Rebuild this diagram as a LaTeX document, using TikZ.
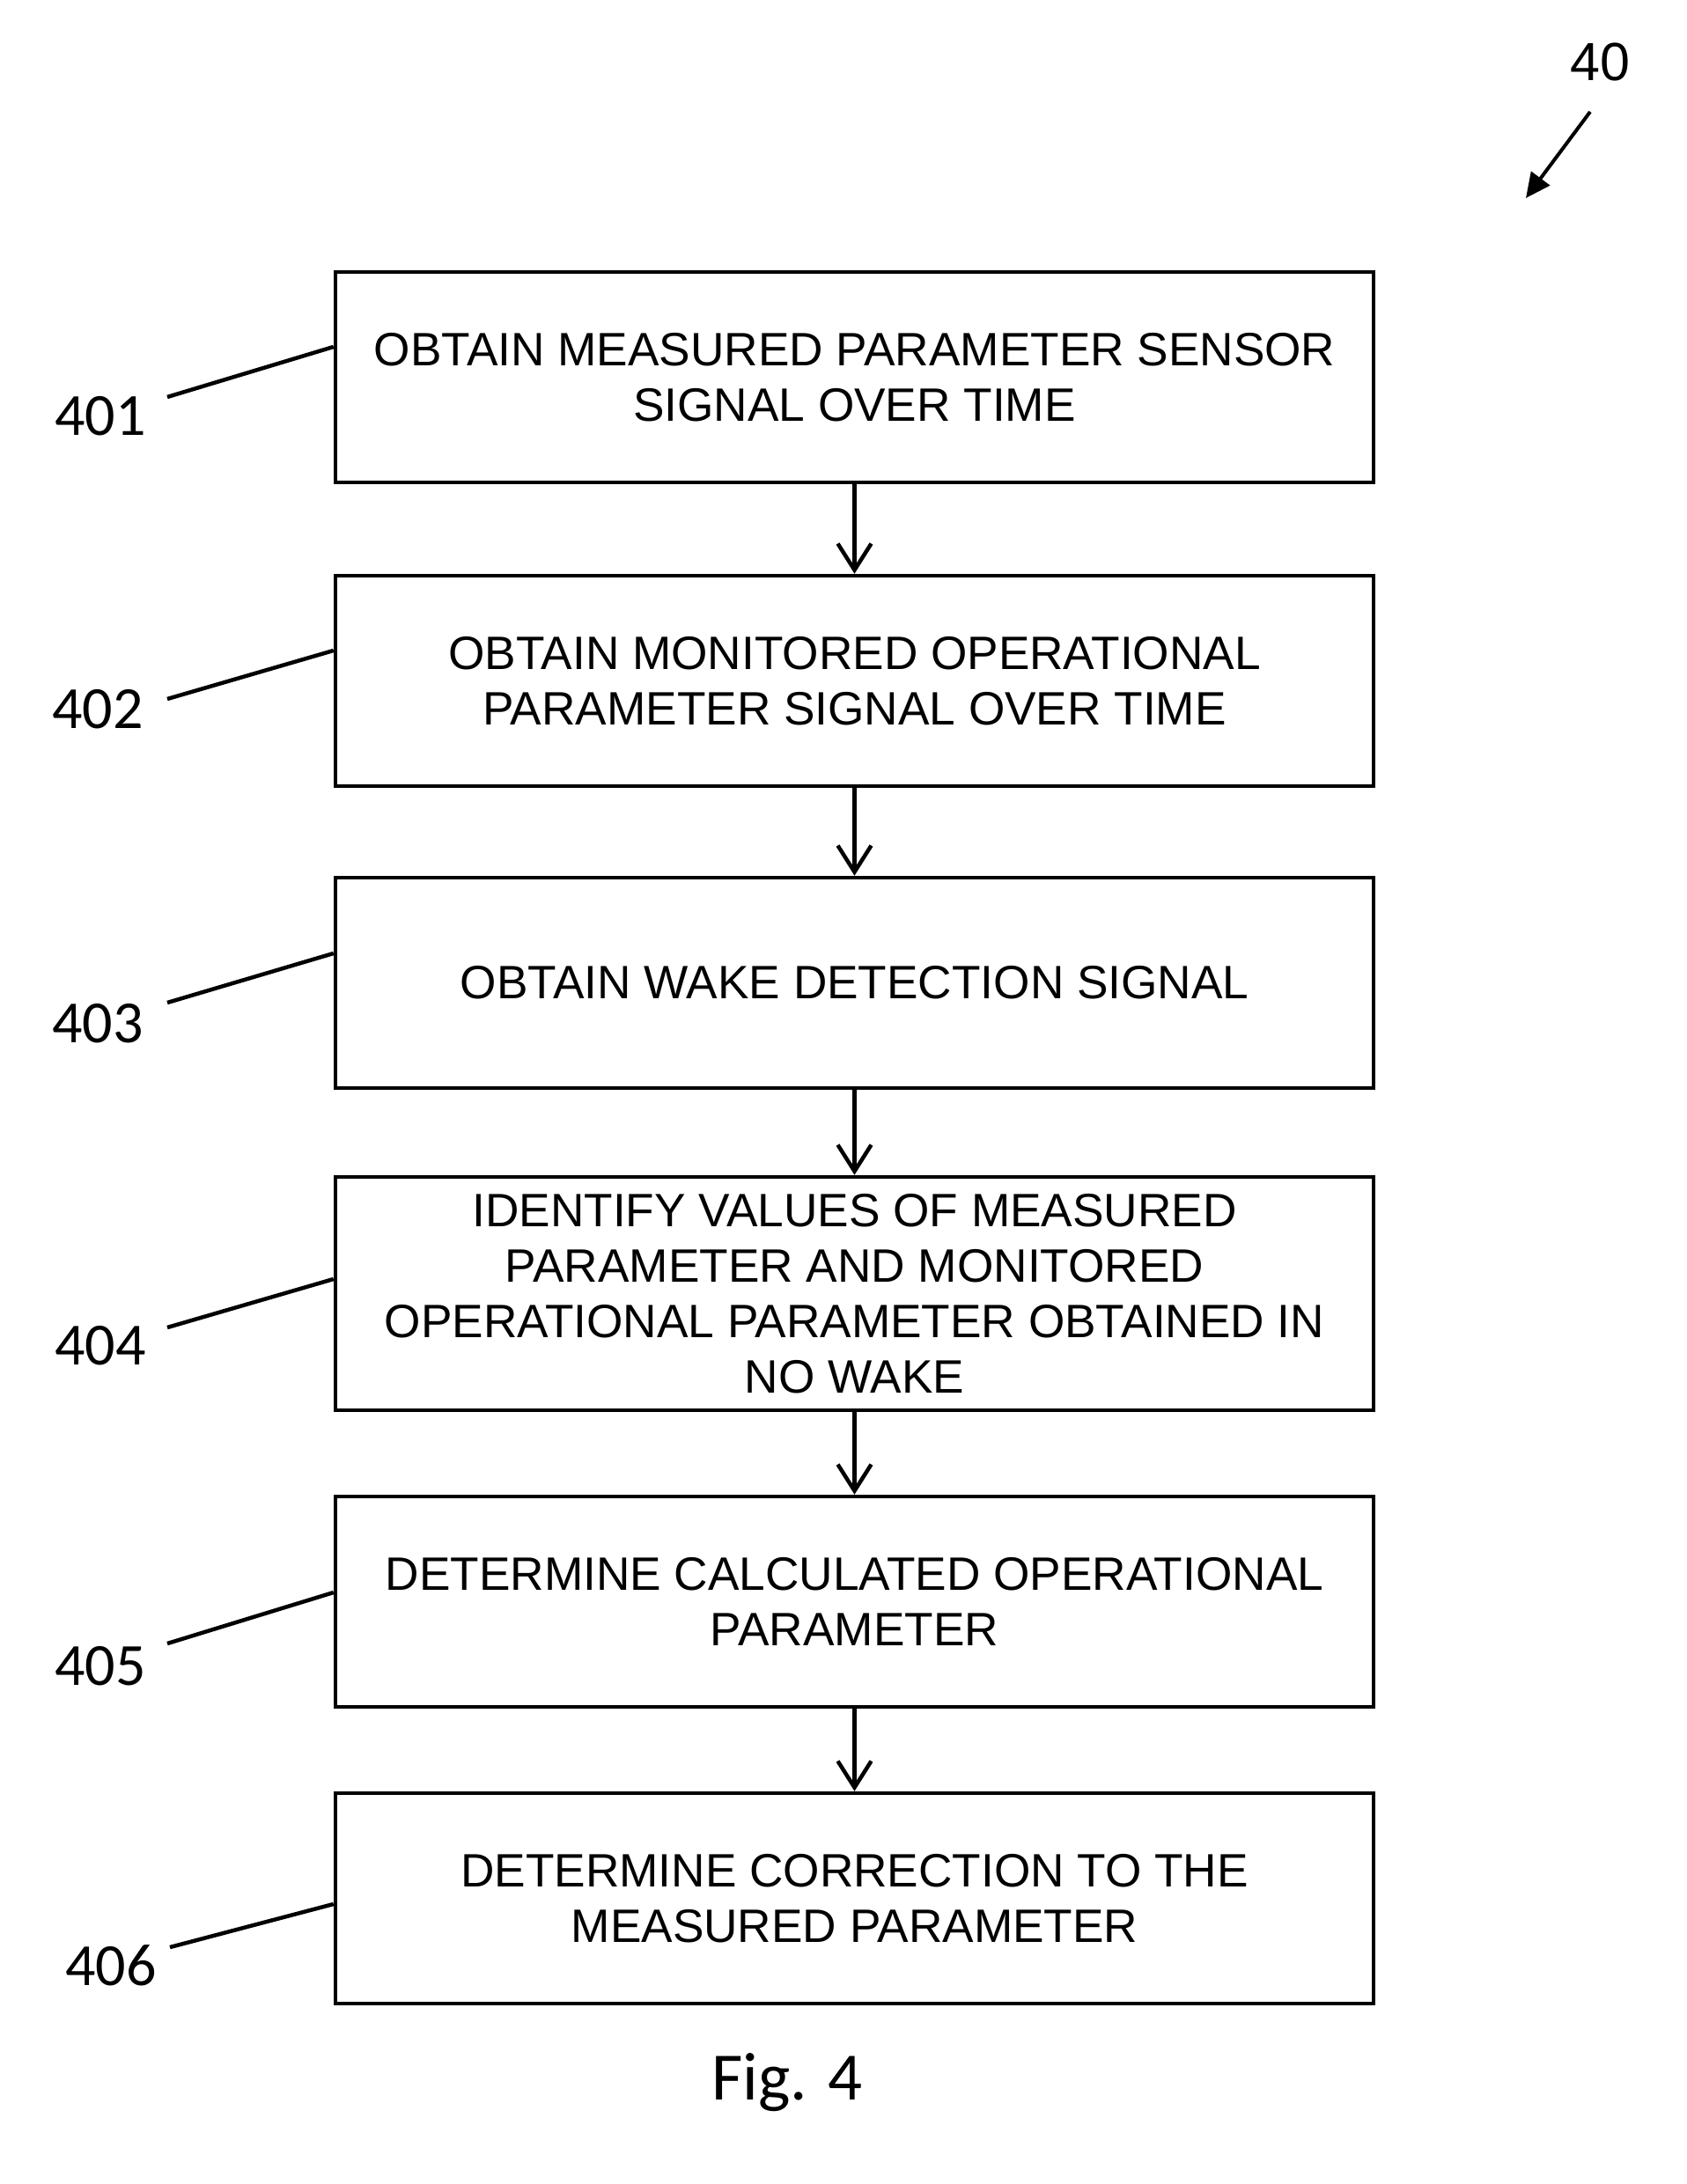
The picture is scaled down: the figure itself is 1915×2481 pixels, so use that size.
\documentclass[tikz,border=0pt]{standalone}
\usepackage{fontspec}
\setmainfont{Liberation Sans}
\newfontfamily\calfont{Carlito}
\usetikzlibrary{arrows.meta}
\begin{document}
\begin{tikzpicture}[x=1pt,y=-1pt,
  stepbox/.style={draw=black,line width=4.5pt,rectangle,minimum width=1179pt,minimum height=239pt,
    align=center,inner sep=0pt,font=\fontsize{53.2}{63}\selectfont},
  reflabel/.style={font=\calfont\fontsize{68}{68}\selectfont,inner sep=0pt},
  flow/.style={line width=4.5pt,-{Straight Barb[length=30pt,width=38pt,line width=4.5pt]}},
  leader/.style={line width=4.5pt}]
\useasboundingbox (0,0) rectangle (1915,2481);
\node[stepbox] (b1) at (970.5,428.5) {OBTAIN MEASURED PARAMETER SENSOR\\SIGNAL OVER TIME};
\node[stepbox] (b2) at (970.5,773.5) {OBTAIN MONITORED OPERATIONAL\\PARAMETER SIGNAL OVER TIME};
\node[stepbox] (b3) at (970.5,1116.5) {OBTAIN WAKE DETECTION SIGNAL};
\node[stepbox,minimum height=265pt] (b4) at (970.5,1469.5) {IDENTIFY VALUES OF MEASURED\\PARAMETER AND MONITORED\\OPERATIONAL PARAMETER OBTAINED IN\\NO WAKE};
\node[stepbox] (b5) at (970.5,1819.5) {DETERMINE CALCULATED OPERATIONAL\\PARAMETER};
\node[stepbox] (b6) at (970.5,2156.5) {DETERMINE CORRECTION TO THE\\MEASURED PARAMETER};
\draw[flow] (b1.south) -- (b2.north);
\draw[flow] (b2.south) -- (b3.north);
\draw[flow] (b3.south) -- (b4.north);
\draw[flow] (b4.south) -- (b5.north);
\draw[flow] (b5.south) -- (b6.north);
\node[reflabel] (n1) at (114,473) {401};
\node[reflabel] (n2) at (111,806) {402};
\node[reflabel] (n3) at (111,1163) {403};
\node[reflabel] (n4) at (114,1529) {404};
\node[reflabel] (n5) at (114,1893) {405};
\node[reflabel] (n6) at (126,2233) {406};
\coordinate (l1) at (190,451);
\coordinate (l2) at (190,794);
\coordinate (l3) at (190,1139);
\coordinate (l4) at (190,1508);
\coordinate (l5) at (190,1867);
\coordinate (l6) at (193,2212);
\draw[leader] (l1) -- ([yshift=34.5pt]b1.west);
\draw[leader] (l2) -- ([yshift=34.5pt]b2.west);
\draw[leader] (l3) -- ([yshift=33.5pt]b3.west);
\draw[leader] (l4) -- ([yshift=16.5pt]b4.west);
\draw[leader] (l5) -- ([yshift=10.5pt]b5.west);
\draw[leader] (l6) -- ([yshift=-6.5pt]b6.west);
\node[font=\fontsize{61}{61}\selectfont,inner sep=0pt] (fig) at (1817,71) {40};
\coordinate (a0) at (1806,127);
\coordinate (a1) at (1733,225);
\draw[line width=4pt,-{Triangle[length=28pt,width=26pt]}] (a0) -- (a1);
\node[font=\calfont\fontsize{77}{77}\selectfont,inner sep=0pt] (cap) at (894,2366) {Fig. 4};
\end{tikzpicture}
\end{document}
